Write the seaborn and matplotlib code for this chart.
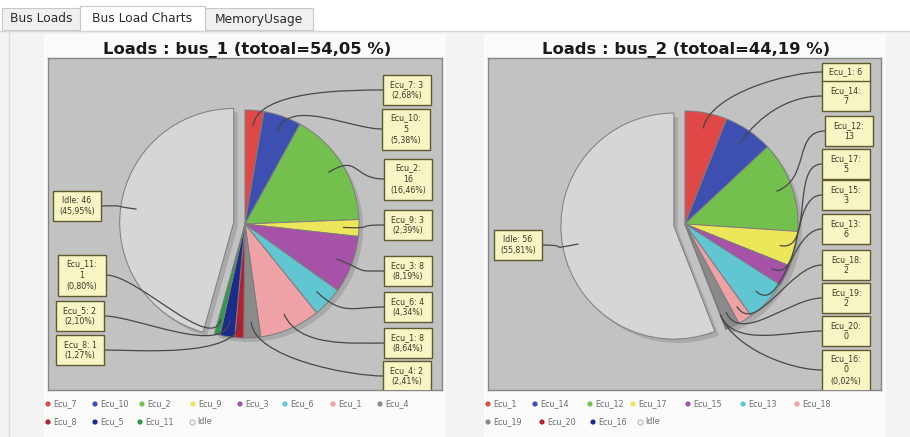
import numpy as np
import matplotlib
matplotlib.use("Agg")
import matplotlib.pyplot as plt
import seaborn as sns
from matplotlib.patches import Rectangle, PathPatch
from matplotlib.path import Path

sns.set_style("white")
plt.rcParams['font.family'] = ['DejaVu Sans']

W, H = 910, 437

# --- data ---
bus1_names = ["Ecu_7", "Ecu_10", "Ecu_2", "Ecu_9", "Ecu_3", "Ecu_6",
              "Ecu_1", "Ecu_4", "Ecu_8", "Ecu_5", "Ecu_11", "Idle"]
bus1_sizes = [2.68, 5.38, 16.46, 2.39, 8.19, 4.34, 8.64, 2.41, 1.27, 2.10, 0.80, 45.95]
bus1_labels = ["Ecu_7: 3\n(2,68%)", "Ecu_10:\n5\n(5,38%)", "Ecu_2:\n16\n(16,46%)",
               "Ecu_9: 3\n(2,39%)", "Ecu_3: 8\n(8,19%)", "Ecu_6: 4\n(4,34%)",
               "Ecu_1: 8\n(8,64%)", "Ecu_4: 2\n(2,41%)", "Ecu_8: 1\n(1,27%)",
               "Ecu_5: 2\n(2,10%)", "Ecu_11:\n1\n(0,80%)", "Idle: 46\n(45,95%)"]
bus1_title = "Loads : bus_1 (totoal=54,05 %)"

bus2_names = ["Ecu_1", "Ecu_14", "Ecu_12", "Ecu_17", "Ecu_15", "Ecu_13",
              "Ecu_18", "Ecu_19", "Ecu_20", "Ecu_16", "Idle"]
bus2_sizes = [6, 7, 13, 5, 3, 6, 2, 2, 0, 0.02, 55.81]
bus2_labels = ["Ecu_1: 6", "Ecu_14:\n7", "Ecu_12:\n13", "Ecu_17:\n5", "Ecu_15:\n3",
               "Ecu_13:\n6", "Ecu_18:\n2", "Ecu_19:\n2", "Ecu_20:\n0",
               "Ecu_16:\n0\n(0,02%)", "Idle: 56\n(55,81%)"]
bus2_title = "Loads : bus_2 (totoal=44,19 %)"

tab_names = ["Bus Loads", "Bus Load Charts", "MemoryUsage"]

# --- layout (pixels) ---
ecu_colors = ["#e04848", "#3d4fb0", "#74c04e", "#ece65a", "#a552a8", "#62c6d2",
              "#eea2a6", "#8a8a8a", "#b52030", "#1a2c8c", "#2f9a48"]
idle_color = "#d6d6d6"

bus1_label_xy = [(407, 90), (406, 129), (408, 179), (408, 225), (408, 271), (408, 307),
                 (408, 343), (407, 376), (80, 350), (80, 316), (82, 275), (77, 206)]
bus2_label_xy = [(846, 72), (846, 96), (849, 131), (846, 164), (846, 195), (846, 229),
                 (846, 265), (846, 298), (846, 331), (846, 370), (518, 245)]

bus1_leg_pos = [(48, 404), (95, 404), (142, 404), (193, 404), (240, 404), (285, 404),
                (333, 404), (380, 404), (48, 422), (95, 422), (140, 422), (192, 422)]
bus2_leg_pos = [(488, 404), (535, 404), (590, 404), (633, 404), (688, 404), (743, 404),
                (797, 404), (488, 422), (542, 422), (593, 422), (640, 422)]

fig = plt.figure(figsize=(W / 100, H / 100), dpi=100)
fig.patch.set_facecolor("#f3f3f3")

# background axes in pixel coordinates (y down)
bg = fig.add_axes([0, 0, 1, 1])
bg.set_xlim(0, W)
bg.set_ylim(H, 0)
bg.axis("off")

# tabs
bg.add_patch(Rectangle((0, 0), W, 31, fc="#ffffff", ec="none"))
bg.plot([0, W], [30.5, 30.5], color="#d4d4d4", lw=1)
tab_rects = [(2, 8, 78, 22), (80, 6, 125, 25), (205, 8, 108, 22)]
tab_fc = ["#f0f0f0", "#ffffff", "#f0f0f0"]
for (tx, ty, tw, th), name, fc in zip(tab_rects, tab_names, tab_fc):
    bg.add_patch(Rectangle((tx, ty), tw, th, fc=fc, ec="#c8c8c8", lw=0.8))
    bg.text(tx + tw / 2, 19, name, ha="center", va="center", fontsize=8.8, color="#2a2a2a")
bg.plot([8.5, 8.5], [31, H], color="#dcdcdc", lw=1)

# white chart panels
for px in (44, 484):
    bg.add_patch(Rectangle((px, 34), 402, H - 34, fc="#fbfbfb", ec="none"))


def draw_bus(rect, center, radius, sizes, labels, label_xy, names, leg_pos, title):
    x0, y0, x1, y1 = rect
    n = len(sizes)
    colors = ecu_colors[:n - 1] + [idle_color]
    bg.text((x0 + x1) / 2 + 2, 50, title, ha="center", va="center",
            fontsize=11.8, fontweight="bold", color="#1a1a1a")

    ax = fig.add_axes([x0 / W, 1 - y1 / H, (x1 - x0) / W, (y1 - y0) / H])
    ax.set_facecolor("#c2c2c2")
    cx, cy = center[0], H - center[1]
    # explode is given in data units (pixels here): about 10 % of the radius
    explode = [0] * (n - 1) + [0.1 * radius]

    # shadow
    ax.pie(sizes, startangle=90, counterclock=False, explode=explode,
           center=(cx + 4, cy - 4), radius=radius, colors=["#a9a9a9"] * n,
           wedgeprops=dict(linewidth=0), frame=True)
    ax.pie(sizes, startangle=90, counterclock=False, explode=explode,
           center=(cx, cy), radius=radius, colors=colors,
           wedgeprops=dict(edgecolor="#7c7c7c", linewidth=0.7), frame=True)

    frac = np.array(sizes) / np.sum(sizes)
    start = np.cumsum(frac) - frac
    mid = np.radians(360 * (start + frac / 2))
    for i in range(n):
        d = np.array([np.sin(mid[i]), np.cos(mid[i])])
        c = np.array([cx, cy]) + explode[i] * d
        lx, ly = label_xy[i]
        ly = H - ly
        side = 1 if lx > cx else -1
        p0 = c + 0.86 * radius * d
        p1 = c + 1.18 * radius * d
        p3 = np.array([lx - side * 24, ly])
        p2 = p3 - np.array([side * 32, 0])
        path = Path([p0, p1, p2, p3], [Path.MOVETO, Path.CURVE4, Path.CURVE4, Path.CURVE4])
        ax.add_patch(PathPatch(path, fc="none", ec="#474747", lw=0.9, zorder=3))

    for i in range(n):
        lx, ly = label_xy[i]
        ly = H - ly
        nl = labels[i].count("\n") + 1
        h = 11 * nl + 8
        ax.add_patch(Rectangle((lx - 24, ly - h / 2), 48, h, fc="#f7f5c4",
                               ec="#5f5b2e", lw=1, zorder=4))
        ax.text(lx, ly, labels[i], ha="center", va="center", fontsize=5.7,
                color="#3a3a2a", linespacing=1.3, zorder=5)

    ax.set_xlim(x0, x1)
    ax.set_ylim(H - y1, H - y0)
    ax.set_aspect("auto")
    ax.set_xticks([])
    ax.set_yticks([])
    for s in ax.spines.values():
        s.set_color("#858585")
        s.set_linewidth(1)
        s.set_visible(True)

    # legend
    for (mx, my), name, col in zip(leg_pos, names, colors):
        if name == "Idle":
            bg.scatter([mx], [my], s=14, fc="#f4f4f4", ec="#b8b8b8", lw=0.8)
        else:
            bg.scatter([mx], [my], s=14, color=col, ec="none")
        bg.text(mx + 5, my, name, ha="left", va="center", fontsize=5.8, color="#6e6e6e")


draw_bus((48, 58, 442, 390), (245, 224), 114, bus1_sizes, bus1_labels,
         bus1_label_xy, bus1_names, bus1_leg_pos, bus1_title)
draw_bus((488, 58, 881, 390), (685, 224), 113, bus2_sizes, bus2_labels,
         bus2_label_xy, bus2_names, bus2_leg_pos, bus2_title)

fig.savefig("out.png", dpi=100, facecolor=fig.get_facecolor())
